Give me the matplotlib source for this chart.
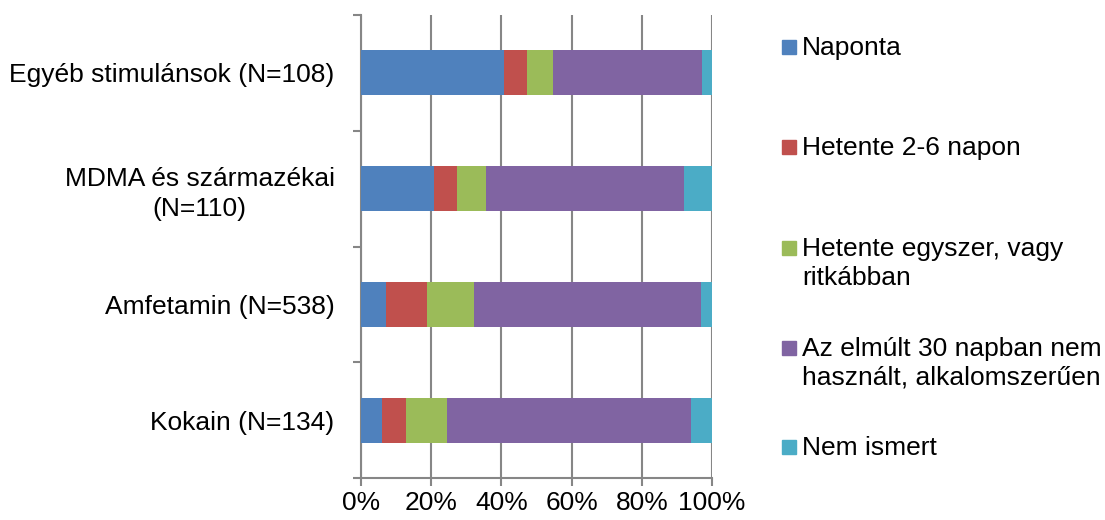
import matplotlib.pyplot as plt
import matplotlib.patches as mpatches
import numpy as np

plt.rcParams['font.family'] = ['Liberation Sans', 'DejaVu Sans']

# substances, top to bottom
substances = ['Egyéb stimulánsok (N=108)', 'MDMA és származékai\n(N=110)',
              'Amfetamin (N=538)', 'Kokain (N=134)']

# share of users per frequency category (%)
naponta = [40.7, 20.9, 7.1, 6.0]
hetente_2_6 = [6.5, 6.4, 11.7, 6.7]
hetente_egyszer = [7.4, 8.2, 13.4, 11.9]
nem_hasznalt = [42.6, 56.4, 64.7, 69.4]
nem_ismert = [2.8, 8.1, 3.1, 6.0]

series = [naponta, hetente_2_6, hetente_egyszer, nem_hasznalt, nem_ismert]
labels = ['Naponta', 'Hetente 2-6 napon', 'Hetente egyszer, vagy\nritkábban',
          'Az elmúlt 30 napban nem\nhasznált, alkalomszerűen', 'Nem ismert']
colors = ['#4F81BD', '#C0504D', '#9BBB59', '#8064A2', '#4BACC6']

W, H = 1105, 520
fig = plt.figure(figsize=(W / 100, H / 100), dpi=100)
ax = fig.add_axes([361 / W, 1 - 478 / H, (712 - 361) / W, (478 - 15) / H])

ypos = np.arange(len(substances))
left = np.zeros(len(substances))
for vals, col in zip(series, colors):
    ax.barh(ypos, vals, left=left, height=0.39, color=col, zorder=3)
    left += np.array(vals)

ax.set_xlim(0, 100)
ax.set_ylim(3.5, -0.5)

# gridlines
gray = '#868686'
ax.set_xticks(np.arange(0, 101, 20))
ax.set_xticklabels([f'{v}%' for v in range(0, 101, 20)], fontsize=19)
ax.grid(axis='x', color=gray, linewidth=1.5, zorder=0)
ax.tick_params(axis='x', length=6, width=1.5, color=gray, pad=3)

# category boundaries as major ticks, names on minor ticks
ax.set_yticks(np.arange(-0.5, 4, 1))
ax.set_yticklabels([])
ax.tick_params(axis='y', which='major', length=6, width=1.5, color=gray)
ax.set_yticks(ypos, minor=True)
ax.set_yticklabels(substances, minor=True, fontsize=19, multialignment='center',
                   linespacing=1.3)
ax.tick_params(axis='y', which='minor', length=0, pad=19)

for s in ['top', 'right']:
    ax.spines[s].set_visible(False)
for s in ['left', 'bottom']:
    ax.spines[s].set_color(gray)
    ax.spines[s].set_linewidth(1.5)

# legend, marker next to the first line of each entry
leg_y = [47, 147, 248, 348, 447]
for lab, col, y in zip(labels, colors, leg_y):
    fig.patches.append(mpatches.Rectangle((782 / W, 1 - (y + 7) / H), 14 / W, 14 / H,
                                          transform=fig.transFigure, color=col))
    fig.text(802 / W, 1 - (y - 11) / H, lab, fontsize=19, va='top', ha='left',
             linespacing=1.25)

fig.savefig('out.png', dpi=100)
